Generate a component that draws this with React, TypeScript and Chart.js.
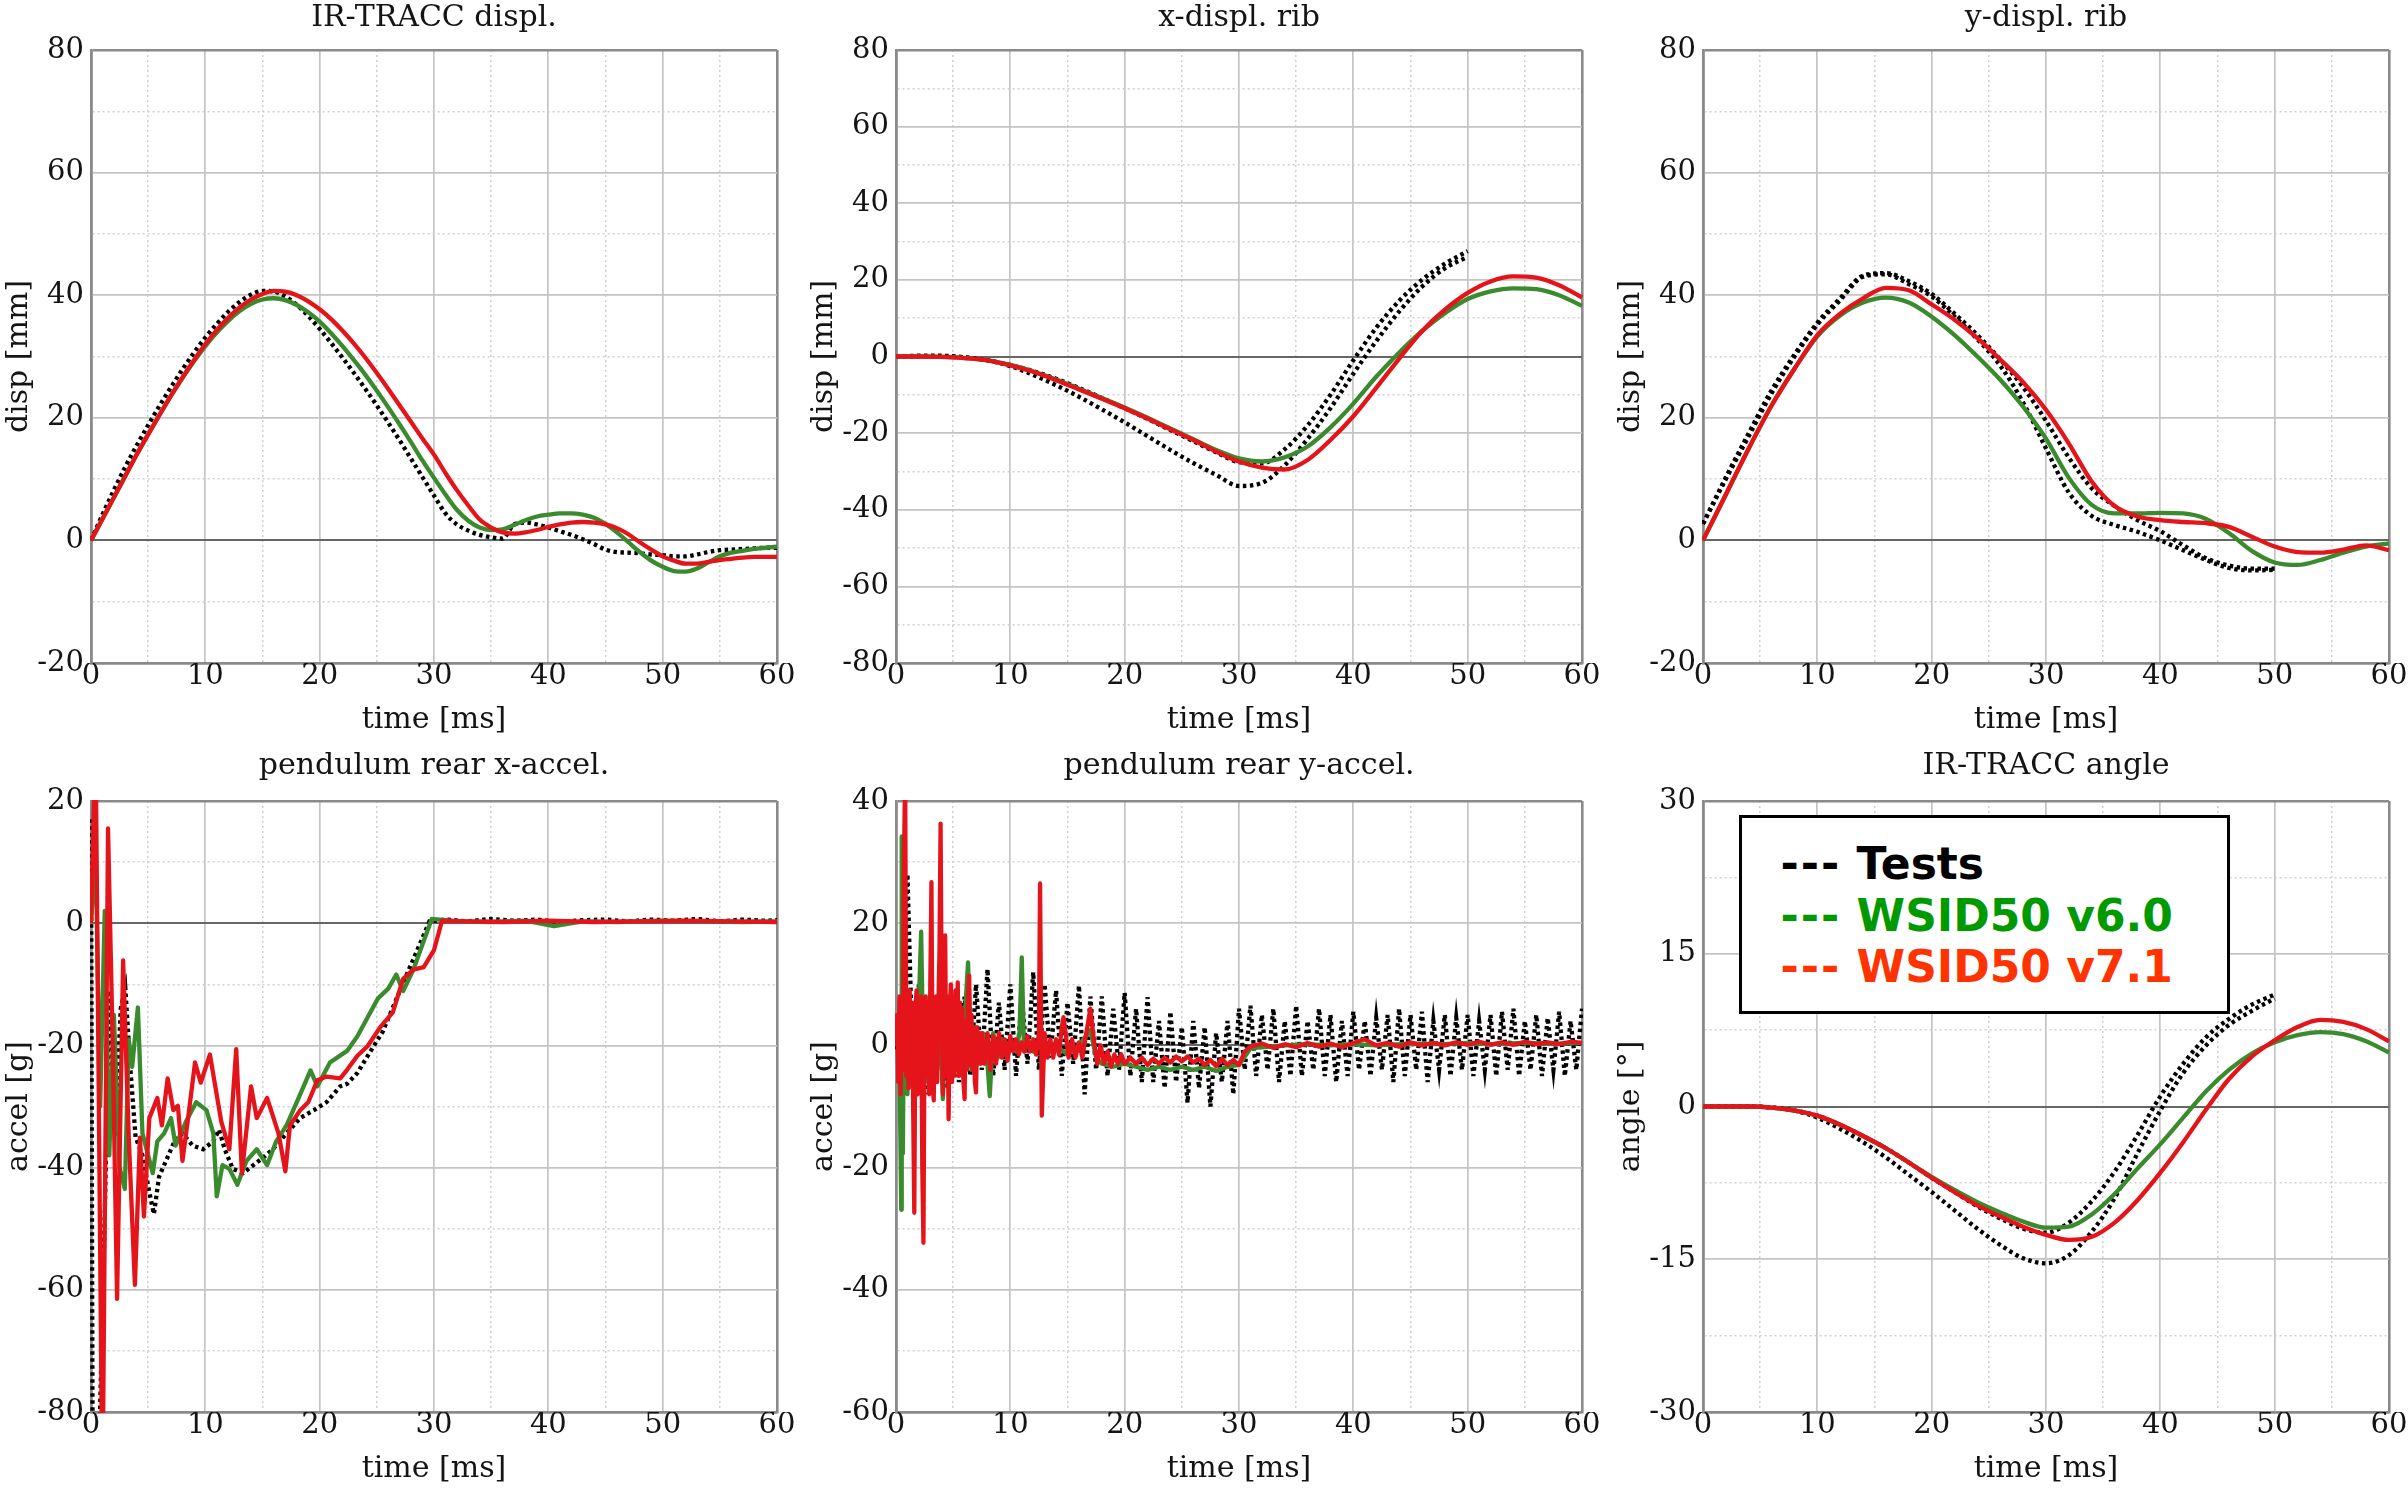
import React, { useEffect, useRef } from 'react';
import { Chart, registerables } from 'chart.js';

Chart.register(...registerables);

// ---------------- data ----------------
const TIME_1MS = [0,1,2,3,4,5,6,7,8,9,10,11,12,13,14,15,16,17,18,19,20,21,22,23,24,25,26,27,28,29,30,31,32,33,34,35,36,37,38,39,40,41,42,43,44,45,46,47,48,49,50,51,52,53,54,55,56,57,58,59,60];
const TIME_2MS = [0,2,4,6,8,10,12,14,16,18,20,22,24,26,28,30,32,34,36,38,40,42,44,46,48,50,52,54,56,58,60];
const TIME_2MS_TO50 = [0,2,4,6,8,10,12,14,16,18,20,22,24,26,28,30,32,34,36,38,40,42,44,46,48,50];
const TIME_HALF_MS = [0,0.5,1,1.5,2,2.5,3,3.5,4,4.5,5,5.5,6,6.5,7,7.5,8,8.5,9,9.5,
  10,10.5,11,11.5,12,12.5,13,13.5,14,14.5,15,15.5,16,16.5,17,17.5,18,18.5,19,19.5,
  20,20.5,21,21.5,22,22.5,23,23.5,24,24.5,25,25.5,26,26.5,27,27.5,28,28.5,29,29.5,
  30,30.5,31,31.5,32,32.5,33,33.5,34,34.5,35,35.5,36,36.5,37,37.5,38,38.5,39,39.5,
  40,40.5,41,41.5,42,42.5,43,43.5,44,44.5,45,45.5,46,46.5,47,47.5,48,48.5,49,49.5,
  50,50.5,51,51.5,52,52.5,53,53.5,54,54.5,55,55.5,56,56.5,57,57.5,58,58.5,59,59.5,60];

// Panel 1: IR-TRACC displ. [mm]
const P1_TEST = [0,4.2,8.2,12,15.5,18.8,22,25,27.9,30.6,33.1,35.3,37.3,38.9,40.1,40.7,40.6,39.8,38.4,36.6,34.5,32.2,29.8,27.3,24.7,22,19.2,16.3,13.3,10.3,7.3,4.4,2.6,1.6,0.9,0.5,0.3,2.6,2.9,2.6,2.1,1.5,0.9,0.2,-0.6,-1.5,-1.9,-2.0,-2.1,-2.3,-2.4,-2.6,-2.6,-2.3,-1.9,-1.6,-1.5,-1.4,-1.3,-1.2,-1.2];
const P1_V60 = [0,3.5,7,10.5,14,17.3,20.5,23.6,26.5,29.2,31.7,33.9,35.8,37.4,38.6,39.3,39.5,39.2,38.4,37.2,35.7,33.8,31.7,29.4,27,24.4,21.7,18.9,16,13,10.2,7.5,5.0,3.2,2.1,1.7,1.8,2.5,3.3,3.9,4.2,4.4,4.4,4.2,3.7,2.7,1.3,-0.3,-1.9,-3.3,-4.3,-5.0,-5.1,-4.6,-3.6,-2.6,-2.0,-1.7,-1.4,-1.2,-1.0];
const P1_V71 = [0,3.5,7,10.5,14,17.3,20.5,23.6,26.6,29.4,32,34.3,36.3,38,39.3,40.2,40.7,40.6,40,39,37.7,36.1,34.2,32.1,29.8,27.3,24.7,22,19.3,16.6,14,11,8.2,5.7,3.4,2.1,1.3,1.1,1.3,1.7,2.2,2.6,2.9,3.0,2.9,2.6,2.0,1.0,-0.3,-1.5,-2.6,-3.3,-3.8,-3.8,-3.5,-3.2,-3.0,-2.8,-2.7,-2.7,-2.7];

// Panel 2: x-displ. rib [mm]
const P2_TEST_A = [0,0.2,0.2,-0.2,-1.0,-2.5,-4.8,-7.5,-10.5,-13.8,-17.2,-20.8,-24.4,-27.8,-30.9,-33.8,-33.0,-28.4,-21.5,-13.5,-4.5,4.0,11.7,18.2,23.0,26.0];
const P2_TEST_B = [0,0,0,-0.3,-1.0,-2.2,-3.8,-5.8,-8.2,-10.8,-13.5,-16.3,-19.2,-22.1,-25.0,-27.6,-27.9,-24.2,-18.0,-10.0,-1.0,7.5,14.5,20.0,24.2,27.5];
const P2_V60 = [0,0,-0.1,-0.4,-1.0,-2.2,-3.9,-6.0,-8.4,-10.8,-13.3,-16.0,-18.8,-21.6,-24.4,-26.6,-27.4,-26.3,-23.5,-18.5,-12.3,-5.3,1.0,6.6,11.3,15.0,17.0,17.8,17.6,16.0,13.2];
const P2_V71 = [0,0,-0.1,-0.4,-1.0,-2.3,-4.0,-6.2,-8.6,-11.0,-13.5,-16.2,-19.0,-21.8,-24.8,-27.4,-29.0,-29.5,-27.0,-21.8,-15.6,-8.2,-0.6,6.6,12.2,16.6,19.6,20.9,20.6,18.6,15.4];

// Panel 3: y-displ. rib [mm]
const P3_TEST_A = [2.7,10,17,24,30,35.2,39.2,43.0,43.4,41.8,39.8,36.5,32.8,28.5,22.5,15,7.8,4.0,2.5,1.4,0.0,-1.6,-3.2,-4.5,-4.9,-4.8];
const P3_TEST_B = [2.7,10.3,17.5,24.5,30.3,35.5,39.5,43.2,43.6,42.3,40.2,37,33.5,29.5,25,19.5,13.5,8.5,5.6,3.3,1.5,-0.8,-2.9,-4.1,-4.6,-4.6];
const P3_V60 = [0,7.5,15,22,28,33.3,36.7,38.8,39.6,38.8,36.5,33.5,30,26.2,21.8,16.6,10.2,5.8,4.4,4.4,4.5,4.4,3.5,1.2,-1.7,-3.6,-4.0,-3.2,-2.0,-1.0,-0.5];
const P3_V71 = [0,7.5,15,22,28,33.5,37,39.5,41.2,40.8,38.5,36,33,29.5,25.8,21.3,15.8,9.6,5.6,3.9,3.3,3.0,2.8,2.2,0.6,-1.0,-1.9,-2.0,-1.5,-0.8,-1.6];

// Panel 4: pendulum rear x-accel. [g]
const P4_TEST_T = [0,0.15,0.6,1.2,1.6,2.1,2.6,3.0,3.45,3.9,4.5,5.1,5.5,5.95,6.7,7.3,8.0,8.9,9.8,10.7,11.2,11.7,12.4,13.3,14.2,15.1,15.9,17.1,18.3,19.5,20.6,21.8,22.4,23.3,24.2,25.5,26.4,27.8,28.7,29.6,31,33,35,37,39,41,43,45,47,49,51,53,55,57,59,60];
const P4_TEST_V = [17,-95,-95,-48,-11,-35,-14,-10.6,-24,-35,-38,-44,-47.6,-41.5,-38.3,-35.7,-34.4,-36.4,-37.0,-35.7,-33.8,-37.0,-40.2,-40.9,-39.6,-38.3,-37.0,-34.4,-31.9,-30.6,-29.3,-26.7,-26.3,-24.5,-21.7,-17.8,-13.8,-7.6,-3.7,0.3,0.6,0.3,0.7,0.4,0.6,0.2,0.5,0.6,0.3,0.6,0.4,0.7,0.3,0.6,0.4,0.5];
const P4_V60_T = [0,0.4,0.8,1.2,1.6,2.0,2.5,2.96,3.3,3.6,4.1,4.5,5.0,5.4,5.8,6.4,7.0,7.4,8.3,9.2,10.1,10.7,11.0,11.5,12.1,12.8,13.6,14.5,15.4,16.2,17.1,18.0,19.2,19.8,20.9,22.4,23.3,24.2,25.1,26.0,26.7,27.3,28.2,29.1,29.8,32,35,38,40.5,43,46,50,54,57,60];
const P4_V60_V = [0,12,-30,2,-38,-15,-40,-43.5,-19,-23.5,-13.8,-34.4,-38,-40.9,-35.7,-34.4,-31.9,-36.4,-32.5,-29.3,-30.6,-34.4,-44.7,-39.6,-40.2,-42.8,-38.9,-37.0,-39.6,-35.7,-33.1,-29.3,-24.1,-26.7,-22.8,-20.9,-18.5,-15.4,-12.3,-10.7,-8.4,-11.1,-7.6,-2.9,0.7,0.3,0.2,0.4,-0.5,0.3,0.2,0.4,0.3,0.2,0.3];
const P4_V71_T = [0,0.4,1.0,1.49,1.9,2.28,2.81,3.3,3.84,4.28,4.63,5.1,5.8,6.2,6.7,7.2,7.6,8.0,8.45,9.1,9.6,10.4,11.4,12.1,12.7,13.2,14.0,14.5,15.4,16.4,17.0,17.4,18.3,19.0,19.8,20.6,21.8,22.4,23.3,24.2,25.3,26.4,27.3,28.2,29.1,30.0,30.7,33,36,40,44,48,52,56,60];
const P4_V71_V = [0,30,-95,15.5,-20,-61.5,-6.1,-35,-59.2,-35.1,-48.0,-31.9,-28.6,-33.1,-25.4,-30.6,-29.9,-38.9,-32.5,-22.8,-26.1,-21.5,-32.5,-37.0,-20.6,-40.9,-26.7,-31.9,-28.6,-34.4,-40.6,-33.1,-30.6,-29.3,-25.7,-25.1,-25.4,-24,-21.7,-20.1,-17,-14.6,-9.1,-7.6,-7.2,-4.4,0.4,0.3,0.2,0.4,0.2,0.3,0.4,0.3,0.2];

// Panel 5: pendulum rear y-accel. [g]
const P5_TEST_V = [0,-3,28,-6,10,-8,8,-6,9,-7,7,-6,8,-5,10,-4,12.5,-5,7,-4,
  10,-5,8,-3,12,-4,10,-2,9,-5,7,-3,9.8,-8,8,-4,8,-5,6,-4,
  8.6,-5,6,-6,7.9,-6,4,-7,5.5,-6,3,-9.4,4,-7,3,-10,2,-6,4,-8,
  6,-4,6.5,-5,5,-4,6,-6,4,-5,6.5,-5,4,-4,6,-5,5,-6,4,-5,
  5.5,-4,4,-5,4.5,-4,5,-6,6,-5,5,-4,5.5,-6,4,-4,5,-5,4.5,-4,
  5,-5,4,-4,5,-5,5.5,-4,6,-5,4,-4,5,-5,4.5,-4,5.5,-5,4,-4,6];
const P5_V60_T = [0,0.2,0.35,0.46,0.5,0.6,0.7,0.8,0.9,1.0,
  1.2,1.4,1.6,1.8,2.0,2.2,2.4,2.6,2.8,3.0,
  3.2,3.4,3.6,3.8,4.1,4.3,4.6,4.9,5.2,5.5,
  5.8,6.0,6.3,6.6,6.9,7.2,7.6,8.0,8.2,8.5,
  8.9,9.3,9.7,10.1,10.5,10.8,11.0,11.2,11.6,12.0,
  12.5,13,14,15,16,17,17.5,18,19,20,
  21,22,23,24,25,26,27,28,29,30,
  31,32,34,36,38,40,42,45,48,50,
  52,55,58,60];
const P5_V60_V = [0,5,-10,-26.9,34.2,-17.7,8,-5,6,-8,
  7,-6,6,-5,7,18.6,-4,6,-6,5,
  -5,6,-4,7,-8.8,5,-5,6,-4,5,
  -5,4,13.6,-4,3,-3,2,-3,-8.3,2,
  -2,1,-2,0,-1,2,14.4,-1,0.5,-1,
  0.5,-1,0,-1.5,0,2.5,-2,-3,-3.5,-3,
  -3.5,-4,-3.5,-4,-3.5,-4,-3.5,-4.2,-3.5,-3.2,
  -0.5,-0.3,0,0.2,0,0.2,0,0.3,0.2,0.4,
  0.2,0.4,0.3,0.4];
const P5_V71_T = [0,0.1,0.2,0.3,0.4,0.5,0.6,0.7,0.8,0.9,
  1.0,1.1,1.2,1.3,1.4,1.5,1.6,1.7,1.8,1.9,
  2.0,2.1,2.2,2.3,2.4,2.5,2.6,2.7,2.8,2.9,
  3.0,3.1,3.2,3.3,3.4,3.5,3.6,3.7,3.8,3.9,
  4.0,4.1,4.2,4.3,4.4,4.5,4.6,4.7,4.8,4.9,
  5.0,5.1,5.2,5.3,5.4,5.5,5.6,5.7,5.8,5.9,
  6.0,6.1,6.2,6.3,6.4,6.5,6.6,6.7,6.8,6.9,
  7.0,7.1,7.2,7.3,7.4,7.5,
  7.75,8.0,8.25,8.5,8.75,9.0,9.25,9.5,9.75,10.0,
  10.25,10.5,10.75,11.0,11.25,11.5,11.75,12.0,12.25,12.5,
  12.6,12.75,13.0,13.25,13.5,13.75,14.0,14.25,14.5,14.65,
  14.9,15.1,15.4,15.7,16.0,16.3,16.6,17.0,17.3,17.6,
  17.9,18.2,18.5,18.8,19.1,19.4,19.7,20.0,
  20.5,21,21.5,22,22.5,23,23.5,24,24.5,25,
  25.5,26,26.5,27,27.5,28,28.5,29,29.5,30,
  30.5,31,32,33,34,35,36,37,38,39,
  40,41,42,43,44,45,46,47,48,49,
  50,51,52,53,54,55,56,57,58,59,60];
const P5_V71_V = [0,5,-6,8,-8,6,-4,30,45,-5,
  8,-7,9,-6,7,-10,-27.4,6,9,-8,
  7,-6,8,-20,-32.3,5,8,-5,7,-8,
  10,26.7,-6,-9,7,8,-6,6,15,36.3,
  5,-8,9,18,-5,8,-12.1,6,10,-6,
  8,-5,9,-4,10.3,-5,7,-3,6,-6,
  -8.8,4,-4,8,11.4,-3,5,-4,3,-6,
  -7.7,3,-2,2,-3,2,
  -3,2,-4,1.5,-3,2,-2,1,-2.5,1.5,
  -1,1,-1.5,0.5,-1,1.5,-1,1,-1.5,2,
  26.5,-11.5,2,-2,1,-2,1,-1.5,3,4.6,
  1,-2,1,-2,0.5,-2,1.5,6.0,1,-3,
  0,-3,-1,-3.5,-1.5,-3,-1.5,-3,
  -2,-3,-2,-3.2,-2.2,-3,-2,-2.8,-1.8,-2.6,
  -1.8,-2.8,-2.2,-3.2,-2.4,-3.4,-2.2,-3.2,-2.4,-3.2,
  -1,-0.2,0.3,-0.4,0.2,-0.3,0.4,-0.2,0.3,-0.3,
  0.4,1.0,0,0.4,-0.2,0.5,0,0.4,0,0.5,
  0.1,0.6,0.1,0.5,0.1,0.6,0.2,0.5,0.2,0.6,0.4];

// Panel 6: IR-TRACC angle [deg]
const P6_TEST_A = [0,0,0,-0.1,-0.4,-1.1,-2.2,-3.5,-5.0,-6.7,-8.4,-10.2,-12.0,-13.6,-14.9,-15.4,-14.6,-12.3,-9.0,-4.6,-0.4,3.3,6.0,8.0,9.4,10.6];
const P6_TEST_B = [0,0,0,-0.1,-0.4,-0.9,-1.8,-2.9,-4.1,-5.5,-7.0,-8.4,-9.8,-11.0,-12.0,-12.4,-11.4,-9.3,-6.4,-2.8,1.0,4.2,6.8,8.6,10.0,11.0];
const P6_V60 = [0,0,0,-0.1,-0.4,-0.9,-1.8,-2.9,-4.1,-5.5,-6.9,-8.2,-9.4,-10.4,-11.3,-11.9,-11.8,-10.6,-8.6,-6.1,-3.7,-1.1,1.5,3.6,5.2,6.3,7.0,7.3,7.1,6.4,5.3];
const P6_V71 = [0,0,0,-0.1,-0.4,-0.9,-1.8,-2.9,-4.1,-5.5,-7.0,-8.4,-9.7,-10.8,-11.8,-12.6,-13.1,-12.8,-11.4,-9.2,-6.5,-3.5,-0.3,2.7,4.9,6.5,7.8,8.5,8.3,7.6,6.4];

const X_TICK_LABELS = [0, 10, 20, 30, 40, 50, 60];
const LEGEND_LABELS = ['Tests', 'WSID50 v6.0', 'WSID50 v7.1'];

// ---------------- styling / layout ----------------
const SERIF = '"DejaVu Serif", "Liberation Serif", serif';
const TEXT = '#141414';
const BOX = '#8a8a8a';
const MAJOR = '#c4c4c4';
const MINOR = '#d0d0d0';
const ZERO = '#666666';
const LINE_COLORS = { test: '#000000', v60: '#3a8a2e', v71: '#e5141b' };
const LEGEND_COLORS = ['#000000', '#009900', '#ff3300'];
const LINE_W = 4.3;

const Y_AXIS_W = 91;
const X_AXIS_H = 75;
const RIGHT_PAD = 18;
const CANVAS_W = Y_AXIS_W + 686 + RIGHT_PAD;
const COL_X = [0, 805, 1612];
const ROW_Y = [0, 740];
const ROW_H = [50 + 613 + X_AXIS_H, 61 + 611 + X_AXIS_H];
const TITLE_SIZE = 30;
const TITLE_LH = TITLE_SIZE * 1.2;
const TITLE_PAD = [[0, 50 - TITLE_LH], [8.5, 61 - 8.5 - TITLE_LH]];

type Kind = 'test' | 'v60' | 'v71';
interface Series { t: number[]; v: number[]; kind: Kind }
interface PanelDef {
  title: string; yTitle: string; yMin: number; yMax: number; yStep: number; yLabelStep: number;
  smooth: boolean; col: number; row: number; series: Series[];
}

const PANELS: PanelDef[] = [
  { title: 'IR-TRACC displ.', yTitle: 'disp [mm]', yMin: -20, yMax: 80, yStep: 10, yLabelStep: 20, smooth: true, col: 0, row: 0,
    series: [ { t: TIME_1MS, v: P1_V71, kind: 'v71' }, { t: TIME_1MS, v: P1_V60, kind: 'v60' }, { t: TIME_1MS, v: P1_TEST, kind: 'test' } ] },
  { title: 'x-displ. rib', yTitle: 'disp [mm]', yMin: -80, yMax: 80, yStep: 10, yLabelStep: 20, smooth: true, col: 1, row: 0,
    series: [ { t: TIME_2MS, v: P2_V71, kind: 'v71' }, { t: TIME_2MS, v: P2_V60, kind: 'v60' }, { t: TIME_2MS_TO50, v: P2_TEST_A, kind: 'test' }, { t: TIME_2MS_TO50, v: P2_TEST_B, kind: 'test' } ] },
  { title: 'y-displ. rib', yTitle: 'disp [mm]', yMin: -20, yMax: 80, yStep: 10, yLabelStep: 20, smooth: true, col: 2, row: 0,
    series: [ { t: TIME_2MS, v: P3_V71, kind: 'v71' }, { t: TIME_2MS, v: P3_V60, kind: 'v60' }, { t: TIME_2MS_TO50, v: P3_TEST_A, kind: 'test' }, { t: TIME_2MS_TO50, v: P3_TEST_B, kind: 'test' } ] },
  { title: 'pendulum rear x-accel.', yTitle: 'accel [g]', yMin: -80, yMax: 20, yStep: 10, yLabelStep: 20, smooth: false, col: 0, row: 1,
    series: [ { t: P4_V71_T, v: P4_V71_V, kind: 'v71' }, { t: P4_V60_T, v: P4_V60_V, kind: 'v60' }, { t: P4_TEST_T, v: P4_TEST_V, kind: 'test' } ] },
  { title: 'pendulum rear y-accel.', yTitle: 'accel [g]', yMin: -60, yMax: 40, yStep: 10, yLabelStep: 20, smooth: false, col: 1, row: 1,
    series: [ { t: P5_V71_T, v: P5_V71_V, kind: 'v71' }, { t: P5_V60_T, v: P5_V60_V, kind: 'v60' }, { t: TIME_HALF_MS, v: P5_TEST_V, kind: 'test' } ] },
  { title: 'IR-TRACC angle', yTitle: 'angle [°]', yMin: -30, yMax: 30, yStep: 7.5, yLabelStep: 15, smooth: true, col: 2, row: 1,
    series: [ { t: TIME_2MS, v: P6_V71, kind: 'v71' }, { t: TIME_2MS, v: P6_V60, kind: 'v60' }, { t: TIME_2MS_TO50, v: P6_TEST_A, kind: 'test' }, { t: TIME_2MS_TO50, v: P6_TEST_B, kind: 'test' } ] },
];

function makeDataset(s: Series, smooth: boolean) {
  const n = Math.min(s.t.length, s.v.length);
  const data: { x: number; y: number }[] = [];
  for (let i = 0; i < n; i++) data.push({ x: s.t[i], y: s.v[i] });
  const isTest = s.kind === 'test';
  return {
    data,
    borderColor: LINE_COLORS[s.kind],
    backgroundColor: LINE_COLORS[s.kind],
    borderWidth: LINE_W,
    borderDash: isTest ? [3.5, 3.5] : [],
    borderCapStyle: 'butt',
    borderJoinStyle: isTest ? 'miter' : 'round',
    pointRadius: 0,
    pointHoverRadius: 0,
    fill: false,
    tension: 0,
    cubicInterpolationMode: smooth ? 'monotone' : 'default',
    clip: 1,
  };
}

const near = (a: number, b: number) => Math.abs(a - b) < 1e-6;
const isMultiple = (v: number, step: number) => near(v / step, Math.round(v / step));

function buildConfig(def: PanelDef): any {
  const xStyle = (v: number) => {
    if (near(v, 0) || near(v, 60)) return 'box';
    return isMultiple(v, 10) ? 'major' : 'minor';
  };
  const yStyle = (v: number) => {
    if (near(v, def.yMin) || near(v, def.yMax)) return 'box';
    if (near(v, 0)) return 'zero';
    return isMultiple(v, def.yLabelStep) ? 'major' : 'minor';
  };
  const colorOf = (k: string) => (k === 'box' ? BOX : k === 'zero' ? ZERO : k === 'major' ? MAJOR : MINOR);
  const widthOf = (k: string) => (k === 'box' ? 2.6 : k === 'zero' ? 1.9 : k === 'major' ? 1.7 : 1.5);
  const dashOf = (k: string) => (k === 'minor' ? [2, 3] : []);

  return {
    type: 'line',
    data: { datasets: def.series.map((s) => makeDataset(s, def.smooth)) },
    options: {
      responsive: false,
      maintainAspectRatio: false,
      animation: false,
      devicePixelRatio: 1,
      events: [],
      layout: { padding: { left: 0, right: RIGHT_PAD, top: 0, bottom: 0 } },
      plugins: {
        legend: { display: false },
        tooltip: { enabled: false },
        title: {
          display: true,
          text: def.title,
          fullSize: false,
          color: TEXT,
          font: { family: SERIF, size: TITLE_SIZE, weight: 'normal' },
          padding: { top: TITLE_PAD[def.row][0], bottom: TITLE_PAD[def.row][1] },
        },
      },
      scales: {
        x: {
          type: 'linear',
          min: 0,
          max: 60,
          afterFit: (scale: any) => { scale.height = X_AXIS_H; },
          ticks: {
            stepSize: 5,
            autoSkip: false,
            maxRotation: 0,
            minRotation: 0,
            padding: -1,
            color: TEXT,
            font: { family: SERIF, size: 29, lineHeight: 1 },
            callback: (value: number) => (X_TICK_LABELS.some((l) => near(l, value)) ? String(value) : ''),
          },
          grid: {
            drawTicks: false,
            color: (ctx: any) => colorOf(ctx.tick ? xStyle(ctx.tick.value) : 'box'),
            lineWidth: (ctx: any) => widthOf(ctx.tick ? xStyle(ctx.tick.value) : 'box'),
          },
          border: {
            display: true,
            color: BOX,
            width: 2.6,
            dash: (ctx: any) => (ctx && ctx.tick ? dashOf(xStyle(ctx.tick.value)) : []),
          },
          title: {
            display: true,
            text: 'time [ms]',
            color: TEXT,
            font: { family: SERIF, size: 30 },
            padding: { top: 0, bottom: 0 },
          },
        },
        y: {
          type: 'linear',
          min: def.yMin,
          max: def.yMax,
          afterFit: (scale: any) => { scale.width = Y_AXIS_W; },
          ticks: {
            stepSize: def.yStep,
            autoSkip: false,
            padding: 7,
            color: TEXT,
            font: { family: SERIF, size: 29 },
            callback: (value: number) => (isMultiple(value, def.yLabelStep) ? String(Math.round(value)) : ''),
          },
          grid: {
            drawTicks: false,
            color: (ctx: any) => colorOf(ctx.tick ? yStyle(ctx.tick.value) : 'box'),
            lineWidth: (ctx: any) => widthOf(ctx.tick ? yStyle(ctx.tick.value) : 'box'),
          },
          border: {
            display: true,
            color: BOX,
            width: 2.6,
            dash: (ctx: any) => (ctx && ctx.tick ? dashOf(yStyle(ctx.tick.value)) : []),
          },
          title: {
            display: true,
            text: def.yTitle,
            color: TEXT,
            font: { family: SERIF, size: 30 },
            padding: { top: 1, bottom: 0 },
          },
        },
      },
    },
  };
}

function PanelChart({ def }: { def: PanelDef }) {
  const ref = useRef<HTMLCanvasElement | null>(null);
  const left = COL_X[def.col];
  const top = ROW_Y[def.row];
  const height = ROW_H[def.row];
  useEffect(() => {
    const canvas = ref.current;
    if (!canvas) return;
    const chart = new Chart(canvas, buildConfig(def));
    return () => chart.destroy();
  }, [def]);
  return (
    <canvas
      ref={ref}
      width={CANVAS_W}
      height={height}
      style={{ position: 'absolute', left, top, width: CANVAS_W, height, display: 'block' }}
    />
  );
}

function Legend() {
  return (
    <div
      style={{
        position: 'absolute',
        left: 1739,
        top: 815,
        width: 491,
        height: 199,
        boxSizing: 'border-box',
        border: '3.5px solid #000',
        background: '#fff',
        paddingTop: 20,
        paddingLeft: 38.5,
        fontFamily: '"DejaVu Sans", Verdana, sans-serif',
        fontWeight: 'bold',
        fontSize: 44,
        lineHeight: '51.5px',
        whiteSpace: 'pre',
      }}
    >
      {LEGEND_LABELS.map((label, i) => (
        <div key={label} style={{ color: LEGEND_COLORS[i] }}>
          <span style={{ letterSpacing: '2px' }}>---</span>
          {' ' + label}
        </div>
      ))}
    </div>
  );
}

export default function App() {
  useEffect(() => {
    document.body.style.margin = '0';
    document.body.style.background = '#fff';
  }, []);
  return (
    <div style={{ position: 'absolute', left: 0, top: 0, width: 2408, height: 1490, overflow: 'hidden', background: '#fff' }}>
      {PANELS.map((p) => (
        <PanelChart key={p.title} def={p} />
      ))}
      <Legend />
    </div>
  );
}
